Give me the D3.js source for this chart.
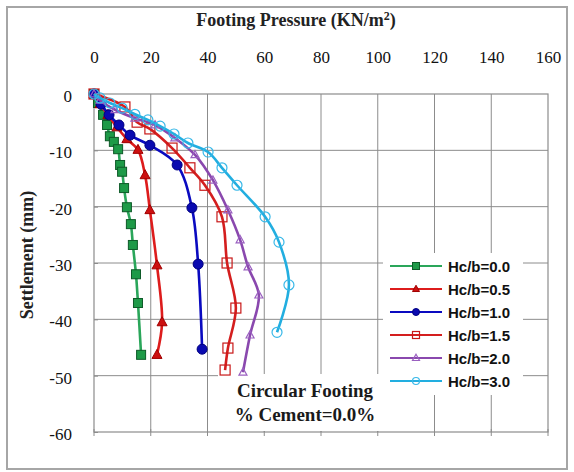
<!DOCTYPE html>
<html>
<head>
<meta charset="utf-8">
<script src="https://cdn.jsdelivr.net/npm/d3@7"></script>
<style>
  body { margin: 0; background: #fff; }
  svg { display: block; }
</style>
</head>
<body>
<svg id="chart" width="574" height="472"></svg>
<script>
// values
var xTicks = [0, 20, 40, 60, 80, 100, 120, 140, 160];
var yTicks = [0, -10, -20, -30, -40, -50, -60];
var seriesNames = ["Hc/b=0.0", "Hc/b=0.5", "Hc/b=1.0", "Hc/b=1.5", "Hc/b=2.0", "Hc/b=3.0"];

var press00 = [0, 1.4, 3.2, 4.6, 5.6, 7.0, 8.5, 9.2, 9.9, 10.6, 11.6, 13.0, 13.7, 14.8, 15.5, 16.6];
var settl00 = [0, -1.6, -3.7, -5.5, -7.5, -8.5, -9.8, -12.6, -13.8, -16.7, -20.1, -23.1, -26.8, -32.0, -37.1, -46.3];

var press05 = [0, 2.1, 4.9, 8.1, 11.6, 15.5, 18.0, 19.7, 22.2, 24.0, 22.2];
var settl05 = [0, -1.8, -3.7, -5.9, -8.0, -9.9, -14.4, -20.6, -30.4, -40.5, -46.3];

var press10 = [0, 2.5, 5.3, 8.8, 12.7, 19.7, 29.3, 34.5, 36.7, 38.1];
var settl10 = [0, -1.8, -3.7, -5.5, -7.3, -9.1, -12.6, -20.2, -30.2, -45.3];

var press15 = [0, 10.9, 15.2, 19.7, 27.5, 33.8, 39.1, 45.1, 46.9, 50.0, 47.2, 46.2];
var settl15 = [0, -2.3, -5.0, -6.2, -9.6, -13.1, -16.2, -21.8, -30.0, -38.0, -45.1, -49.0];

var press20 = [0, 2.1, 7.4, 14.4, 21.5, 28.5, 35.6, 41.9, 47.2, 51.5, 54.3, 58.1, 55.0, 52.5];
var settl20 = [0, -1.1, -2.8, -4.3, -5.5, -7.8, -10.8, -15.3, -20.6, -25.9, -30.7, -35.7, -42.8, -49.4];

var press30 = [0, 2.1, 5.6, 9.9, 14.4, 19.0, 23.3, 28.2, 33.1, 40.2, 45.1, 50.4, 60.3, 65.2, 68.7, 64.5];
var settl30 = [0, -0.7, -1.6, -2.5, -3.6, -4.6, -5.7, -7.1, -8.7, -10.3, -13.1, -16.2, -21.8, -26.3, -33.9, -42.3];

var pressures = [press00, press05, press10, press15, press20, press30];
var settlements = [settl00, settl05, settl10, settl15, settl20, settl30];

// look of each series
var styles = [
  {line: "#2aa65a", marker: "square", fill: "#1e9a48", stroke: "#0e5a28", size: 9},
  {line: "#dd1c1c", marker: "triangle", fill: "#cc1010", stroke: "#a00000", size: 10},
  {line: "#0a0ac0", marker: "circle", fill: "#0a0ab0", stroke: "#000080", size: 10},
  {line: "#d41e1e", marker: "square", fill: "none", stroke: "#c81818", size: 10},
  {line: "#8a48ae", marker: "triangle", fill: "none", stroke: "#9a60c0", size: 8},
  {line: "#22aee0", marker: "circle", fill: "none", stroke: "#38b8e8", size: 10}
];

var svg = d3.select("#chart");
var serif = "'Liberation Serif', 'Times New Roman', serif";
var sans = "'Liberation Sans', Arial, sans-serif";

var x = d3.scaleLinear().domain([0, 160]).range([94, 548]);
var y = d3.scaleLinear().domain([-60, 0]).range([432, 94]);

// outer frame
svg.append("rect")
  .attr("x", 7).attr("y", 7).attr("width", 560).attr("height", 462)
  .attr("fill", "#fff").attr("stroke", "#a6a6a6").attr("stroke-width", 2);

// grid
svg.append("g").selectAll("line")
  .data(xTicks.slice(1, -1)).enter().append("line")
  .attr("x1", function(d){ return x(d); }).attr("x2", function(d){ return x(d); })
  .attr("y1", y(0)).attr("y2", y(-60))
  .attr("stroke", "#8c8c8c").attr("stroke-width", 1);

svg.append("g").selectAll("line")
  .data(yTicks.slice(1, -1)).enter().append("line")
  .attr("x1", x(0)).attr("x2", x(160))
  .attr("y1", function(d){ return y(d); }).attr("y2", function(d){ return y(d); })
  .attr("stroke", "#8c8c8c").attr("stroke-width", 1);

// plot border
svg.append("rect")
  .attr("x", x(0)).attr("y", y(0))
  .attr("width", x(160) - x(0)).attr("height", y(-60) - y(0))
  .attr("fill", "none").attr("stroke", "#8c8c8c").attr("stroke-width", 1.2);

// small ticks on bottom edge
svg.append("g").selectAll("line")
  .data(xTicks).enter().append("line")
  .attr("x1", function(d){ return x(d); }).attr("x2", function(d){ return x(d); })
  .attr("y1", y(-60) - 3).attr("y2", y(-60) + 4)
  .attr("stroke", "#8c8c8c");

// axes (labels only)
var xAxis = svg.append("g")
  .attr("transform", "translate(0," + y(0) + ")")
  .call(d3.axisTop(x).tickValues(xTicks).tickSize(0).tickPadding(31));
xAxis.select(".domain").remove();
xAxis.selectAll("text").attr("font-family", serif).attr("font-size", 17).attr("fill", "#111");

var yAxis = svg.append("g")
  .attr("transform", "translate(" + x(0) + ",0)")
  .call(d3.axisLeft(y).tickValues(yTicks).tickSize(4).tickPadding(18)
    .tickFormat(function(d){ return String(d); }));   // plain hyphen like excel
yAxis.select(".domain").remove();
yAxis.selectAll("line").attr("x2", 4).attr("stroke", "#8c8c8c");
yAxis.selectAll("text").attr("font-family", serif).attr("font-size", 17).attr("fill", "#111")
  .attr("dy", "0.45em");

// axis titles
var title = svg.append("text")
  .attr("x", 296).attr("y", 26)
  .attr("text-anchor", "middle")
  .attr("font-family", serif).attr("font-size", 18).attr("font-weight", "bold").attr("fill", "#222");
title.append("tspan").text("Footing Pressure (KN/m");
title.append("tspan").attr("font-size", 12).attr("dy", -6).text("2");
title.append("tspan").attr("dy", 6).text(")");

svg.append("text")
  .attr("transform", "translate(33,255) rotate(-90)")
  .attr("text-anchor", "middle")
  .attr("font-family", serif).attr("font-size", 18).attr("font-weight", "bold").attr("fill", "#222")
  .text("Settlement (mm)");

// white boxes for the legend and the note
svg.append("rect").attr("x", 383).attr("y", 253).attr("width", 140).attr("height", 142).attr("fill", "#fff");
svg.append("rect").attr("x", 218).attr("y", 374).attr("width", 172).attr("height", 57).attr("fill", "#fff");

function drawMarker(g, st, cx, cy, s) {
  var m;
  if (st.marker === "square") {
    m = g.append("rect").attr("x", cx - s / 2).attr("y", cy - s / 2).attr("width", s).attr("height", s);
  } else if (st.marker === "circle") {
    m = g.append("circle").attr("cx", cx).attr("cy", cy).attr("r", s / 2);
  } else {
    var h = s * 0.9;
    m = g.append("path").attr("d", "M" + cx + "," + (cy - h * 0.6) + "L" + (cx + s / 2) + "," + (cy + h * 0.4) + "L" + (cx - s / 2) + "," + (cy + h * 0.4) + "Z");
  }
  m.attr("fill", st.fill === "none" ? "none" : st.fill)
   .attr("stroke", st.stroke).attr("stroke-width", st.fill === "none" ? 1.2 : 1);
}

var line = d3.line()
  .x(function(d){ return x(d[0]); })
  .y(function(d){ return y(d[1]); })
  .curve(d3.curveCatmullRom.alpha(0.5));

pressures.forEach(function(px, i) {
  var pts = px.map(function(p, j){ return [p, settlements[i][j]]; });
  var g = svg.append("g");
  g.append("path")
    .attr("d", line(pts))
    .attr("fill", "none").attr("stroke", styles[i].line).attr("stroke-width", 2.6);
  pts.forEach(function(p){ drawMarker(g, styles[i], x(p[0]), y(p[1]), styles[i].size); });
});

// legend
var legend = svg.append("g");
seriesNames.forEach(function(name, i) {
  var ly = 266 + i * 23;
  var st = styles[i];
  legend.append("line").attr("x1", 390).attr("x2", 442).attr("y1", ly).attr("y2", ly)
    .attr("stroke", st.line).attr("stroke-width", 2);
  drawMarker(legend, st, 416, ly, 7);
  legend.append("text").attr("x", 448).attr("y", ly + 5.5)
    .attr("font-family", sans).attr("font-size", 15).attr("font-weight", "bold").attr("fill", "#111")
    .text(name);
});

// note
svg.append("text").attr("x", 305).attr("y", 397).attr("text-anchor", "middle")
  .attr("font-family", serif).attr("font-size", 19).attr("font-weight", "bold").attr("fill", "#1a1a1a")
  .text("Circular Footing");
svg.append("text").attr("x", 305).attr("y", 421).attr("text-anchor", "middle")
  .attr("font-family", serif).attr("font-size", 19).attr("font-weight", "bold").attr("fill", "#1a1a1a")
  .text("% Cement=0.0%");
</script>
</body>
</html>
